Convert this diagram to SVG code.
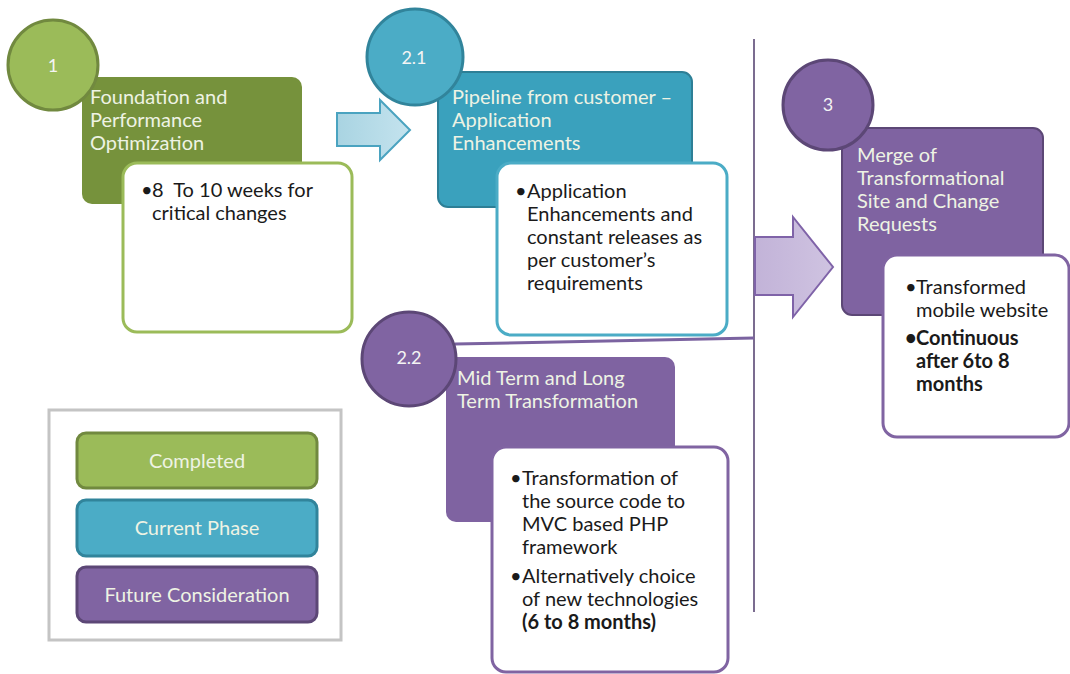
<svg xmlns="http://www.w3.org/2000/svg" width="1070" height="674" viewBox="0 0 1070 674">
<defs>
<linearGradient id="gBlueArrow" x1="0" y1="0" x2="1" y2="0">
<stop offset="0" stop-color="#a9d4e2"/><stop offset="1" stop-color="#c4e3ee"/>
</linearGradient>
<linearGradient id="gPurpArrow" x1="0" y1="0" x2="1" y2="0">
<stop offset="0" stop-color="#c2b3d8"/><stop offset="1" stop-color="#cfc3e1"/>
</linearGradient>
</defs>
<style>
text{font-family:Lato,"Liberation Sans",sans-serif}
.title{font-size:20px;fill:#eef3e4}
.num{font-size:18px;fill:#f4f4f4;text-anchor:middle}
.body{font-size:20px;fill:#1a1a1a}
.b{font-weight:bold}
.leg{font-size:20px;fill:#eef3e4;text-anchor:middle}
.white{fill:#ffffff;stroke-width:3}
</style>
<rect width="1070" height="674" fill="#ffffff"/>

<g id="connectors">
<path d="M337,113 H380 V100 L410,130 L380,160 V146 H337 Z" fill="url(#gBlueArrow)" stroke="#4aa3c0" stroke-width="2"/>
<line x1="754" y1="39" x2="754" y2="612" stroke="#7b6c90" stroke-width="2"/>
<line x1="455" y1="344" x2="754" y2="338" stroke="#7b63a0" stroke-width="3"/>
<path d="M755,237 H793 V217 L833,267 L793,317 V295 H755 Z" fill="url(#gPurpArrow)" stroke="#7f63a8" stroke-width="2"/>
</g>

<g id="node-1">
<rect x="82" y="77" width="220" height="127" rx="10" fill="#76923c"/>
<circle cx="53" cy="65" r="45" fill="#9bbb59" stroke="#71893f" stroke-width="3"/>
<text class="num" x="53" y="72">1</text>
<text class="title" x="90" y="104">Foundation and</text>
<text class="title" x="90" y="127">Performance</text>
<text class="title" x="90" y="150">Optimization</text>
<rect class="white" x="123" y="163" width="229" height="169" rx="14" stroke="#9bbb59"/>
<text class="body" x="141" y="197">•</text>
<text class="body" x="152" y="197">8&#160; To 10 weeks for</text>
<text class="body" x="152" y="220">critical changes</text>
</g>

<g id="node-2-1">
<rect x="438" y="72" width="254" height="135" rx="10" fill="#3aa1bd" stroke="#2d7f96" stroke-width="2"/>
<circle cx="415" cy="57" r="48" fill="#4bacc6" stroke="#31849b" stroke-width="3"/>
<text class="num" x="414" y="64">2.1</text>
<text class="title" x="452" y="104">Pipeline from customer –</text>
<text class="title" x="452" y="127">Application</text>
<text class="title" x="452" y="150">Enhancements</text>
<rect class="white" x="497" y="163" width="230" height="172" rx="14" stroke="#4bacc6"/>
<text class="body" x="515" y="198">•</text>
<text class="body" x="527" y="198">Application</text>
<text class="body" x="527" y="221">Enhancements and</text>
<text class="body" x="527" y="244">constant releases as</text>
<text class="body" x="527" y="267">per customer’s</text>
<text class="body" x="527" y="290">requirements</text>
</g>

<g id="node-2-2">
<rect x="446" y="357" width="229" height="165" rx="10" fill="#7f63a1"/>
<circle cx="409" cy="359" r="47" fill="#8064a2" stroke="#5c4776" stroke-width="3"/>
<text class="num" x="409" y="364">2.2</text>
<text class="title" x="457" y="385">Mid Term and Long</text>
<text class="title" x="457" y="408">Term Transformation</text>
<rect class="white" x="492" y="447" width="236" height="225" rx="14" stroke="#8064a2"/>
<text class="body" x="510" y="485">•</text>
<text class="body" x="522" y="485">Transformation of</text>
<text class="body" x="522" y="508">the source code to</text>
<text class="body" x="522" y="531">MVC based PHP</text>
<text class="body" x="522" y="554">framework</text>
<text class="body" x="510" y="583">•</text>
<text class="body" x="522" y="583">Alternatively choice</text>
<text class="body" x="522" y="606">of new technologies</text>
<text class="body b" x="522" y="629">(6 to 8 months)</text>
</g>

<g id="node-3">
<rect x="842" y="128" width="201" height="187" rx="10" fill="#7f63a1" stroke="#5c4776" stroke-width="2"/>
<circle cx="828" cy="105" r="45" fill="#8064a2" stroke="#5c4776" stroke-width="3"/>
<text class="num" x="828" y="111">3</text>
<text class="title" x="857" y="162">Merge of</text>
<text class="title" x="857" y="185">Transformational</text>
<text class="title" x="857" y="208">Site and Change</text>
<text class="title" x="857" y="231">Requests</text>
<rect class="white" x="883" y="255" width="186" height="182" rx="14" stroke="#8064a2"/>
<text class="body" x="905" y="294">•</text>
<text class="body" x="916" y="294">Transformed</text>
<text class="body" x="916" y="317">mobile website</text>
<text class="body b" x="905" y="345">•</text>
<text class="body b" x="916" y="345">Continuous</text>
<text class="body b" x="916" y="368">after 6to 8</text>
<text class="body b" x="916" y="391">months</text>
</g>

<g id="legend">
<rect x="49" y="410" width="292" height="230" fill="#ffffff" stroke="#c4c4c4" stroke-width="3"/>
<rect x="77" y="433" width="240" height="55" rx="9" fill="#9bbb59" stroke="#71893f" stroke-width="3"/>
<text class="leg" x="197" y="468">Completed</text>
<rect x="77" y="500" width="240" height="56" rx="9" fill="#4bacc6" stroke="#31849b" stroke-width="3"/>
<text class="leg" x="197" y="535">Current Phase</text>
<rect x="77" y="567" width="240" height="55" rx="9" fill="#8064a2" stroke="#5c4776" stroke-width="3"/>
<text class="leg" x="197" y="602">Future Consideration</text>
</g>
</svg>
